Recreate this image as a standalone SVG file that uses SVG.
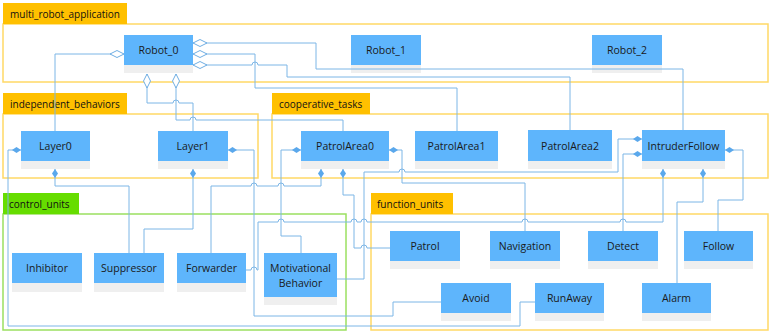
<svg xmlns="http://www.w3.org/2000/svg" width="771" height="333" viewBox="0 0 771 333">
<style>
.tab{fill:#FFC000}
.tabg{fill:#66DD00}
.grp{fill:none;stroke:#FFD966;stroke-width:1.5}
.grpg{fill:none;stroke:#9BE060;stroke-width:1.5}
.tl{font-family:"Open Sans","Noto Sans",sans-serif;font-size:10px;fill:#111}
.node rect.b{fill:#5EB5FC}
.node rect.s{fill:#EFEFEF}
.nt{font-family:"Open Sans","Noto Sans",sans-serif;font-size:10.5px;fill:#1a1a1a;text-anchor:middle;dominant-baseline:central}
.c{fill:none;stroke:#7DB6E6;stroke-width:1}
.agg{marker-start:url(#od)}
.cmp{marker-start:url(#fd)}
</style>
<defs>
<marker id="od" markerUnits="userSpaceOnUse" markerWidth="16" markerHeight="10" viewBox="-1 -5 16 10" refX="0" refY="0" orient="auto">
<path d="M0,0 L7,-3.5 L14,0 L7,3.5 Z" fill="#fff" stroke="#6FAEE3" stroke-width="1"/>
</marker>
<marker id="fd" markerUnits="userSpaceOnUse" markerWidth="11" markerHeight="8" viewBox="-1 -4 11 8" refX="0" refY="0" orient="auto">
<path d="M0,0 L4.5,-3 L9,0 L4.5,3 Z" fill="#5AA8EC"/>
</marker>
</defs>

<g id="groups">
<g id="multi_robot_application">
<rect class="grp" x="3" y="24" width="765" height="58"/>
<rect class="tab" x="3" y="3" width="124" height="21"/>
<text class="tl" x="10" y="17.5">multi_robot_application</text>
</g>
<g id="independent_behaviors">
<rect class="grp" x="3" y="114" width="255" height="64"/>
<rect class="tab" x="3" y="93" width="124" height="21"/>
<text class="tl" x="10" y="107.5">independent_behaviors</text>
</g>
<g id="cooperative_tasks">
<rect class="grp" x="272" y="114" width="496" height="64"/>
<rect class="tab" x="272" y="93" width="98" height="21"/>
<text class="tl" x="279" y="107.5">cooperative_tasks</text>
</g>
<g id="control_units">
<rect class="grpg" x="3" y="214" width="343" height="116"/>
<rect class="tabg" x="3" y="193" width="76" height="21"/>
<text class="tl" x="9" y="207.5">control_units</text>
</g>
<g id="function_units">
<rect class="grp" x="371" y="214" width="397" height="116"/>
<rect class="tab" x="371" y="193" width="82" height="21"/>
<text class="tl" x="377" y="207.5">function_units</text>
</g>
</g>

<g id="nodes">
<g id="Robot_0" class="node"><rect class="s" x="124" y="65" width="69" height="8"/><rect class="b" x="124" y="35" width="69" height="30"/><text class="nt" x="158.5" y="50">Robot_0</text></g>
<g id="Robot_1" class="node"><rect class="s" x="351" y="65" width="70" height="8"/><rect class="b" x="351" y="35" width="70" height="30"/><text class="nt" x="386" y="50">Robot_1</text></g>
<g id="Robot_2" class="node"><rect class="s" x="592" y="65" width="70" height="8"/><rect class="b" x="592" y="35" width="70" height="30"/><text class="nt" x="627" y="50">Robot_2</text></g>
<g id="Layer0" class="node"><rect class="s" x="21" y="161" width="69" height="8"/><rect class="b" x="21" y="131" width="69" height="30"/><text class="nt" x="55.5" y="146">Layer0</text></g>
<g id="Layer1" class="node"><rect class="s" x="158" y="161" width="70" height="8"/><rect class="b" x="158" y="131" width="70" height="30"/><text class="nt" x="193" y="146">Layer1</text></g>
<g id="PatrolArea0" class="node"><rect class="s" x="301" y="161" width="88" height="8"/><rect class="b" x="301" y="131" width="88" height="30"/><text class="nt" x="345" y="146">PatrolArea0</text></g>
<g id="PatrolArea1" class="node"><rect class="s" x="415" y="161" width="83" height="8"/><rect class="b" x="415" y="131" width="83" height="30"/><text class="nt" x="456.5" y="146">PatrolArea1</text></g>
<g id="PatrolArea2" class="node"><rect class="s" x="528" y="161" width="84" height="8"/><rect class="b" x="528" y="130" width="84" height="31"/><text class="nt" x="570" y="145.5">PatrolArea2</text></g>
<g id="IntruderFollow" class="node"><rect class="s" x="642" y="161" width="83" height="8"/><rect class="b" x="642" y="130" width="83" height="31"/><text class="nt" x="683.5" y="145.5">IntruderFollow</text></g>
<g id="Inhibitor" class="node"><rect class="s" x="12" y="283" width="70" height="9"/><rect class="b" x="12" y="253" width="70" height="30"/><text class="nt" x="47" y="268">Inhibitor</text></g>
<g id="Suppressor" class="node"><rect class="s" x="94" y="283" width="70" height="9"/><rect class="b" x="94" y="253" width="70" height="30"/><text class="nt" x="129" y="268">Suppressor</text></g>
<g id="Forwarder" class="node"><rect class="s" x="177" y="283" width="69" height="9"/><rect class="b" x="177" y="253" width="69" height="30"/><text class="nt" x="211.5" y="268">Forwarder</text></g>
<g id="MotivationalBehavior" class="node"><rect class="s" x="264" y="297" width="73" height="8"/><rect class="b" x="264" y="253" width="73" height="44"/><text class="nt" x="300.5" y="268">Motivational</text><text class="nt" x="300.5" y="283">Behavior</text></g>
<g id="Patrol" class="node"><rect class="s" x="390" y="261" width="70" height="8"/><rect class="b" x="390" y="231" width="70" height="30"/><text class="nt" x="425" y="246">Patrol</text></g>
<g id="Navigation" class="node"><rect class="s" x="490" y="261" width="70" height="8"/><rect class="b" x="490" y="231" width="70" height="30"/><text class="nt" x="525" y="246">Navigation</text></g>
<g id="Detect" class="node"><rect class="s" x="588" y="261" width="70" height="8"/><rect class="b" x="588" y="231" width="70" height="30"/><text class="nt" x="623" y="246">Detect</text></g>
<g id="Follow" class="node"><rect class="s" x="684" y="261" width="69" height="8"/><rect class="b" x="684" y="231" width="69" height="30"/><text class="nt" x="718.5" y="246">Follow</text></g>
<g id="Avoid" class="node"><rect class="s" x="441" y="313" width="70" height="8"/><rect class="b" x="441" y="283" width="70" height="30"/><text class="nt" x="476" y="298">Avoid</text></g>
<g id="RunAway" class="node"><rect class="s" x="535" y="313" width="69" height="8"/><rect class="b" x="535" y="283" width="69" height="30"/><text class="nt" x="569.5" y="298">RunAway</text></g>
<g id="Alarm" class="node"><rect class="s" x="642" y="313" width="69" height="8"/><rect class="b" x="642" y="283" width="69" height="30"/><text class="nt" x="676.5" y="298">Alarm</text></g>
</g>

<g id="connectors">
<path class="c agg" d="M124,54 H55 V131"/>
<path class="c agg" d="M193,43 H316 V69 H683 V130"/>
<path class="c agg" d="M193,54 H255 V88 H457 V131"/>
<path class="c agg" d="M193,65 H252 a3,3 0 0 1 6,0 H287 V77 H570 V130"/>
<path class="c agg" d="M147,74 V103 H173 a3,3 0 0 1 6,0 H193 V131"/>
<path class="c agg" d="M176,74 V120 H190 a3,3 0 0 1 6,0 H343 V131"/>
<path class="c cmp" d="M21,150 H8 V326 H520 V302 H535"/>
<path class="c cmp" d="M55,169 V186 H129 V253"/>
<path class="c cmp" d="M193,169 V229 H144 V253"/>
<path class="c cmp" d="M228,150 H254 V316 H393 V302 H441"/>
<path class="c cmp" d="M301,150 H281 V236 H301 V253"/>
<path class="c cmp" d="M321,169 V186 H284 a3,3 0 0 0 -6,0 H257 a3,3 0 0 0 -6,0 H211 V253"/>
<path class="c cmp" d="M343,169 V195 H354 V248 H361 a3,3 0 0 1 6,0 H390"/>
<path class="c cmp" d="M389,150 H402 V183 H525 V231"/>
<path class="c cmp" d="M663,169 V222 H626 a3,3 0 0 0 -6,0 H528 a3,3 0 0 0 -6,0 H367 a3,3 0 0 0 -6,0 H357 a3,3 0 0 0 -6,0 H284 a3,3 0 0 0 -6,0 H258 V270 H257 a3,3 0 0 0 -6,0 H246"/>
<path class="c cmp" d="M642,139 H618 V172 H405 a3,3 0 0 0 -6,0 H364 V279 H337"/>
<path class="c cmp" d="M642,154 H623 V231"/>
<path class="c cmp" d="M703,169 V202 H677 V283"/>
<path class="c cmp" d="M725,150 H743 V200 H718 V231"/>
</g>
</svg>
